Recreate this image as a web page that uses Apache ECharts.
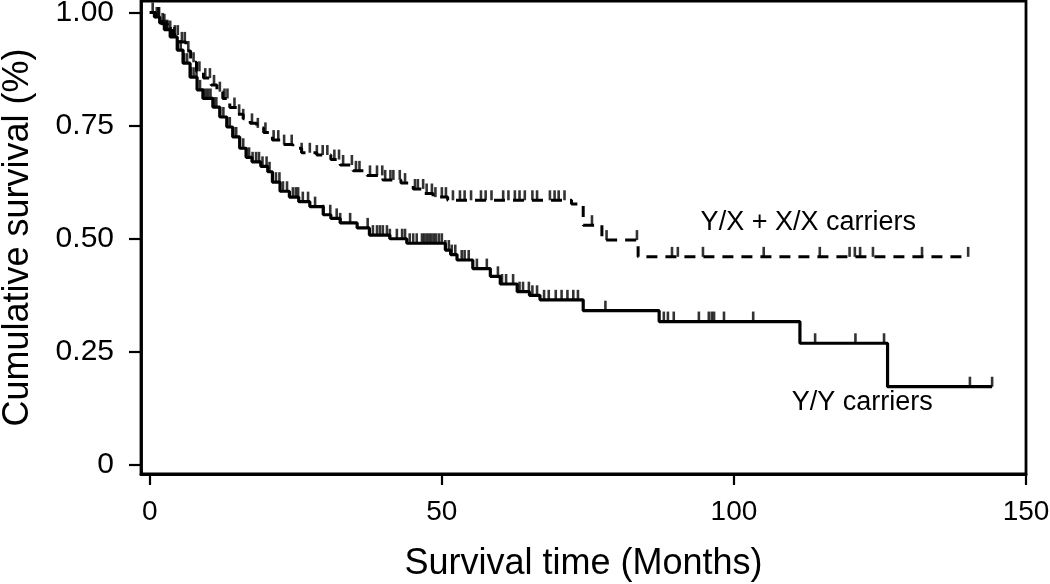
<!DOCTYPE html>
<html>
<head>
<meta charset="utf-8">
<script src="https://cdn.jsdelivr.net/npm/echarts@6/dist/echarts.min.js"></script>
<style>
  html, body { margin: 0; padding: 0; background: #fff; }
  #chart { width: 1050px; height: 584px; }
</style>
</head>
<body>
<div id="chart"></div>
<script>
// ---- Data ----
var xTickValues = [0, 50, 100, 150];
var yTickValues = [0, 0.25, 0.5, 0.75, 1];

// Y/Y carriers (solid): event times (months) and survival after each drop
var yyTimes  = [0, 0.8, 1.7, 2.5, 3.5, 4.7, 5.7, 6.9, 8.1, 9.1, 10.8, 12.0, 13.2, 14.2, 15.4, 16.5, 17.5, 19.0, 20.2, 21.0, 22.3, 23.9, 25.5, 27.4, 29.7, 31.0, 32.6, 35.5, 37.6, 41.1, 44.0, 50.6, 51.5, 52.6, 55.3, 58.3, 60.0, 62.9, 65.0, 66.8, 74.2, 87.2, 111.3, 126.3];
var yyLevels = [1.0, 0.99, 0.977, 0.962, 0.946, 0.917, 0.888, 0.857, 0.829, 0.81, 0.791, 0.769, 0.747, 0.725, 0.70, 0.68, 0.67, 0.66, 0.648, 0.625, 0.605, 0.592, 0.582, 0.571, 0.553, 0.545, 0.535, 0.524, 0.508, 0.50, 0.49, 0.475, 0.465, 0.453, 0.434, 0.417, 0.40, 0.383, 0.375, 0.365, 0.341, 0.317, 0.269, 0.173];
var yyEnd = 144.2;
var yyCensor = [0.5, 1.2, 1.6, 2.2, 2.6, 3.0, 3.6, 4.2, 4.8, 5.3, 5.9, 6.4, 7.0, 7.5, 8.0, 8.6, 9.2, 9.6, 10.0, 10.4, 11.0, 11.4, 12.0, 12.6, 13.2, 13.7, 14.3, 14.8, 15.4, 16.0, 16.5, 17.0, 17.6, 18.2, 18.7, 19.3, 20.0, 20.5, 21.0, 21.6, 22.2, 22.8, 23.5, 24.5, 25.0, 25.4, 26.2, 27.1, 28.3, 29.7, 30.9, 32.0, 32.6, 34.3, 37.3, 38.2, 38.9, 39.4, 39.9, 40.6, 41.1, 42.3, 43.2, 43.7, 44.5, 45.1, 45.7, 46.6, 47.0, 47.4, 47.8, 48.2, 48.6, 49.0, 49.5, 50.0, 50.6, 51.2, 51.7, 52.3, 53.4, 53.9, 54.6, 56.0, 57.7, 59.6, 60.3, 61.0, 62.2, 63.3, 63.9, 64.9, 65.5, 66.3, 67.5, 68.3, 69.5, 70.5, 71.5, 72.5, 73.3, 78.0, 88.0, 88.7, 89.7, 94.0, 95.7, 96.2, 96.6, 98.3, 103.3, 113.9, 120.8, 125.7, 140.4, 144.2];

// Y/X + X/X carriers (dashed)
var yxTimes  = [0, 1.0, 2.0, 3.0, 4.0, 5.0, 6.2, 7.0, 8.0, 9.2, 10.5, 11.5, 12.5, 13.7, 15.0, 16.0, 17.2, 18.3, 19.5, 21.0, 22.5, 24.5, 26.0, 28.6, 31.0, 32.6, 34.8, 37.2, 39.9, 43.0, 45.1, 47.0, 48.5, 51.0, 72.2, 74.2, 77.4, 83.6];
var yxLevels = [1.0, 0.99, 0.975, 0.96, 0.95, 0.935, 0.915, 0.89, 0.87, 0.855, 0.84, 0.825, 0.81, 0.79, 0.775, 0.765, 0.755, 0.745, 0.735, 0.718, 0.708, 0.70, 0.69, 0.685, 0.675, 0.663, 0.65, 0.64, 0.63, 0.623, 0.61, 0.60, 0.592, 0.585, 0.577, 0.53, 0.497, 0.46];
var yxEnd = 140.1;
var yxCensor = [1.5, 2.5, 3.0, 3.5, 4.3, 4.8, 5.5, 6.0, 6.6, 7.5, 8.5, 9.5, 10.3, 11.0, 12.0, 12.8, 13.3, 14.5, 15.3, 16.0, 17.5, 18.5, 19.8, 21.2, 22.0, 23.0, 24.3, 26.0, 27.4, 28.6, 29.6, 30.4, 31.6, 32.4, 33.1, 34.6, 35.3, 35.9, 37.7, 38.9, 39.8, 40.3, 41.2, 41.7, 42.8, 43.7, 45.4, 45.9, 46.8, 47.4, 48.3, 48.9, 50.0, 50.7, 51.9, 53.1, 53.9, 55.0, 56.7, 57.5, 58.5, 60.5, 61.4, 62.5, 63.3, 64.2, 65.5, 66.3, 68.5, 69.3, 70.0, 71.0, 75.7, 78.2, 83.4, 89.4, 90.4, 94.7, 105.1, 114.7, 119.8, 120.7, 121.6, 123.8, 132.2, 140.1];

var labelYX = 'Y/X + X/X carriers';
var labelYY = 'Y/Y carriers';
var xTitle = 'Survival time (Months)';
var yTitle = 'Cumulative survival (%)';

// ---- Helpers ----
function stepData(times, levels, end) {
  var d = times.map(function (t, i) { return [t, levels[i]]; });
  d.push([end, levels[levels.length - 1]]);
  return d;
}
function levelAt(times, levels, t) {
  var v = levels[0];
  for (var i = 0; i < times.length; i++) { if (times[i] <= t) v = levels[i]; }
  return v;
}
function censorData(times, levels, cens) {
  return cens.map(function (t) { return [t, levelAt(times, levels, t)]; });
}

var FONT = '"Liberation Sans", Arial, Helvetica, sans-serif';
var INK = '#000';
var chart = echarts.init(document.getElementById('chart'), null, { renderer: 'canvas' });

var tickMark = {
  type: 'scatter',
  symbol: 'rect',
  symbolSize: [2.6, 10],
  symbolOffset: [0, -5],
  itemStyle: { color: INK },
  silent: true,
  z: 3
};

chart.setOption({
  animation: false,
  backgroundColor: '#fff',
  grid: {
    left: 141, right: 24, top: 1, bottom: 110,
    containLabel: false,
    outerBoundsMode: 'none',
    show: true, borderColor: INK, borderWidth: 2.8, backgroundColor: 'transparent'
  },
  xAxis: {
    type: 'value',
    min: -1.5, max: 150,
    name: xTitle,
    nameLocation: 'middle',
    nameGap: 72,
    nameTextStyle: { fontFamily: FONT, fontSize: 36, color: INK },
    axisLine: { show: true, onZero: false, lineStyle: { color: INK, width: 2.8 } },
    axisTick: { show: true, length: 11, customValues: xTickValues, lineStyle: { color: INK, width: 2.2 } },
    axisLabel: { customValues: xTickValues, margin: 24, fontFamily: FONT, fontSize: 28, color: INK },
    splitLine: { show: false }
  },
  yAxis: {
    type: 'value',
    min: -0.0199, max: 1.0254,
    name: yTitle,
    nameLocation: 'middle',
    nameGap: 105,
    nameTextStyle: { fontFamily: FONT, fontSize: 36, color: INK },
    axisLine: { show: true, onZero: false, lineStyle: { color: INK, width: 2.8 } },
    axisTick: { show: true, length: 12, customValues: yTickValues, lineStyle: { color: INK, width: 2.2 } },
    axisLabel: {
      customValues: yTickValues, margin: 27, fontFamily: FONT, fontSize: 30, color: INK,
      formatter: function (v) { return v === 0 ? '0' : v.toFixed(2); }
    },
    splitLine: { show: false }
  },
  series: [
    {
      name: labelYY, type: 'line', step: 'end', showSymbol: false, symbol: 'none',
      data: stepData(yyTimes, yyLevels, yyEnd),
      lineStyle: { color: INK, width: 3.2 }, z: 2
    },
    {
      name: labelYX, type: 'line', step: 'end', showSymbol: false, symbol: 'none',
      data: stepData(yxTimes, yxLevels, yxEnd),
      lineStyle: { color: INK, width: 3, type: [11, 8] }, z: 2
    },
    Object.assign({}, tickMark, { name: labelYY + ' censored', data: censorData(yyTimes, yyLevels, yyCensor) }),
    Object.assign({}, tickMark, { name: labelYX + ' censored', data: censorData(yxTimes, yxLevels, yxCensor) })
  ]
});

// Curve labels, anchored in data coordinates
var pYX = chart.convertToPixel({ gridIndex: 0 }, [94.3, 0.535]);
var pYY = chart.convertToPixel({ gridIndex: 0 }, [109.9, 0.138]);
chart.setOption({
  graphic: [
    { type: 'text', x: pYX[0], y: pYX[1], style: { text: labelYX, font: '27px ' + FONT, fill: INK, textAlign: 'left', textVerticalAlign: 'middle' } },
    { type: 'text', x: pYY[0], y: pYY[1], style: { text: labelYY, font: '27px ' + FONT, fill: INK, textAlign: 'left', textVerticalAlign: 'middle' } }
  ]
});
</script>
</body>
</html>
